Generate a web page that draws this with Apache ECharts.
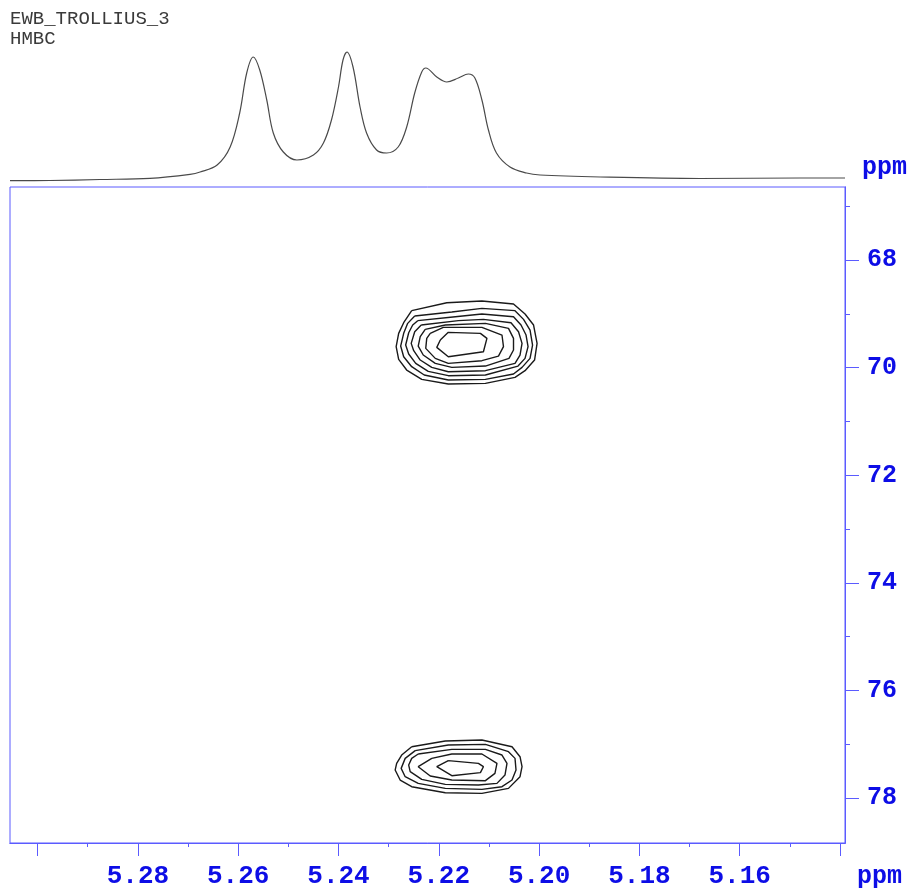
<!DOCTYPE html>
<html>
<head>
<meta charset="utf-8">
<script src="https://cdn.jsdelivr.net/npm/echarts@6/dist/echarts.min.js"></script>
<style>
  html, body { margin: 0; padding: 0; background: #fff; }
  #chart { width: 914px; height: 889px; }
</style>
</head>
<body>
<div id="chart"></div>
<script>
// 1D projection (F2, 1H): ppm and relative intensity
var projPpm = [5.3055, 5.2975, 5.2876, 5.2776, 5.2696, 5.2676, 5.2642, 5.2616, 5.2597, 5.2583,
  5.2570, 5.2557, 5.2543, 5.2530, 5.2510, 5.2483, 5.2450, 5.2430, 5.2414, 5.2400,
  5.2391, 5.2383, 5.2371, 5.2357, 5.2344, 5.2324, 5.2304, 5.2281, 5.2264, 5.2248,
  5.2234, 5.2226, 5.2204, 5.2184, 5.2161, 5.2141, 5.2128, 5.2114, 5.2101, 5.2085,
  5.2058, 5.2025, 5.1998, 5.1878, 5.1679, 5.1480, 5.1390]
var projInt = [2.3, 2.5, 3.5, 4.7, 8.7, 11, 18, 36, 70, 110,
  126, 113, 83, 50, 31, 23, 28, 40, 63, 96,
  123, 131, 116, 76, 50, 33, 30, 36, 56, 90,
  111, 115, 106, 101, 105, 109, 105, 83, 53, 30,
  16, 10, 8, 6, 4.5, 5, 5]

// HMBC cross peak at ~69.5 ppm, contour levels outer -> inner, [1H ppm, 13C ppm]
var peakA1 = [[5.2254, 68.940], [5.2184, 68.792], [5.2114, 68.761], [5.2051, 68.816], [5.2028, 69.002], [5.2011, 69.207],
  [5.2004, 69.548], [5.2009, 69.858], [5.2028, 70.056], [5.2048, 70.180], [5.2107, 70.292], [5.2181, 70.304],
  [5.2234, 70.218], [5.2264, 70.044], [5.2280, 69.846], [5.2285, 69.610], [5.2280, 69.362], [5.2270, 69.164]]
var peakA2 = [[5.2248, 69.040], [5.2174, 68.965], [5.2114, 68.897], [5.2048, 68.940], [5.2031, 69.102], [5.2018, 69.300],
  [5.2013, 69.579], [5.2018, 69.827], [5.2034, 69.994], [5.2051, 70.118], [5.2107, 70.218], [5.2181, 70.230],
  [5.2229, 70.137], [5.2254, 69.982], [5.2270, 69.796], [5.2276, 69.598], [5.2270, 69.362], [5.2262, 69.176]]
var peakA3 = [[5.2242, 69.126], [5.2167, 69.052], [5.2114, 69.002], [5.2051, 69.052], [5.2036, 69.207], [5.2026, 69.393],
  [5.2022, 69.610], [5.2028, 69.827], [5.2042, 69.970], [5.2107, 70.137], [5.2181, 70.149], [5.2221, 70.069],
  [5.2246, 69.920], [5.2260, 69.746], [5.2266, 69.579], [5.2260, 69.350], [5.2252, 69.207]]
var peakA4 = [[5.2235, 69.207], [5.2161, 69.126], [5.2111, 69.102], [5.2056, 69.164], [5.2041, 69.331], [5.2034, 69.548],
  [5.2038, 69.765], [5.2048, 69.920], [5.2107, 70.056], [5.2181, 70.075], [5.2214, 69.994], [5.2237, 69.858],
  [5.2250, 69.684], [5.2255, 69.548], [5.2248, 69.331]]
var peakA5 = [[5.2227, 69.288], [5.2187, 69.207], [5.2107, 69.176], [5.2061, 69.269], [5.2051, 69.455], [5.2051, 69.672],
  [5.2060, 69.827], [5.2107, 69.970], [5.2174, 69.994], [5.2207, 69.920], [5.2231, 69.765], [5.2241, 69.598],
  [5.2237, 69.424]]
var peakA6 = [[5.2217, 69.362], [5.2191, 69.250], [5.2114, 69.250], [5.2074, 69.393], [5.2071, 69.610], [5.2081, 69.784],
  [5.2114, 69.870], [5.2181, 69.920], [5.2207, 69.827], [5.2226, 69.641], [5.2224, 69.455]]
var peakA7 = [[5.2197, 69.486], [5.2181, 69.343], [5.2117, 69.362], [5.2104, 69.455], [5.2111, 69.703], [5.2181, 69.796],
  [5.2204, 69.622]]

// HMBC cross peak at ~77.4 ppm
var peakB1 = [[5.2254, 77.049], [5.2187, 76.943], [5.2114, 76.925], [5.2054, 77.049], [5.2038, 77.235], [5.2034, 77.421],
  [5.2038, 77.607], [5.2061, 77.824], [5.2114, 77.917], [5.2187, 77.905], [5.2254, 77.793], [5.2277, 77.669],
  [5.2287, 77.483], [5.2284, 77.359], [5.2274, 77.204]]
var peakB2 = [[5.2247, 77.123], [5.2181, 77.018], [5.2107, 77.005], [5.2061, 77.142], [5.2048, 77.266], [5.2046, 77.483],
  [5.2054, 77.669], [5.2074, 77.793], [5.2114, 77.843], [5.2187, 77.824], [5.2241, 77.731], [5.2267, 77.607],
  [5.2275, 77.452], [5.2267, 77.266]]
var peakB3 = [[5.2241, 77.185], [5.2174, 77.098], [5.2107, 77.098], [5.2074, 77.204], [5.2064, 77.359], [5.2068, 77.576],
  [5.2084, 77.731], [5.2121, 77.762], [5.2187, 77.750], [5.2234, 77.657], [5.2257, 77.514], [5.2260, 77.390],
  [5.2254, 77.266]]
var peakB4 = [[5.2214, 77.266], [5.2174, 77.185], [5.2114, 77.185], [5.2084, 77.359], [5.2088, 77.545], [5.2107, 77.681],
  [5.2174, 77.669], [5.2217, 77.594], [5.2241, 77.421]]
var peakB5 = [[5.2181, 77.309], [5.2121, 77.359], [5.2111, 77.421], [5.2117, 77.532], [5.2174, 77.588], [5.2204, 77.421]]

// axis ticks
var f2Major = [5.14, 5.16, 5.18, 5.20, 5.22, 5.24, 5.26, 5.28, 5.30]
var f2Minor = [5.15, 5.17, 5.19, 5.21, 5.23, 5.25, 5.27, 5.29]
var f2Labels = [5.16, 5.18, 5.20, 5.22, 5.24, 5.26, 5.28]
var f1Major = [68, 70, 72, 74, 76, 78]
var f1Minor = [67, 69, 71, 73, 75, 77]

var f2Min = 5.1390, f2Max = 5.3055
var f1Min = 66.64, f1Max = 78.84

var blueLine = '#5b5bff'
var blueText = '#0d0de6'
var monoFont = "'Courier New', 'Liberation Mono', monospace"

var chart = echarts.init(document.getElementById('chart'))

function closed(pts) {
  return pts.concat([pts[0]])
}

var contours = [peakA1, peakA2, peakA3, peakA4, peakA5, peakA6, peakA7,
  peakB1, peakB2, peakB3, peakB4, peakB5]

var series = [{
  type: 'line',
  xAxisIndex: 0,
  yAxisIndex: 0,
  data: projPpm.map(function (p, i) { return [p, projInt[i]] }),
  showSymbol: false,
  smooth: 0.35,
  lineStyle: { color: '#4a4a4a', width: 1.2 },
  silent: true
}]
contours.forEach(function (c) {
  series.push({
    type: 'line',
    xAxisIndex: 1,
    yAxisIndex: 1,
    data: closed(c),
    showSymbol: false,
    smooth: false,
    lineStyle: { color: '#1a1a1a', width: 1.4 },
    silent: true
  })
})

function tickAxis(opts) {
  return Object.assign({
    type: 'value',
    inverse: true,
    scale: true,
    splitLine: { show: false },
    axisLine: { show: true, lineStyle: { color: blueLine, width: 1 } }
  }, opts)
}

chart.setOption({
  animation: false,
  backgroundColor: '#fff',
  grid: [
    { left: 10, top: 40, width: 835, height: 143, show: false },
    { left: 10, top: 187, width: 835, height: 656, show: true, borderColor: blueLine, borderWidth: 1 }
  ],
  xAxis: [
    { type: 'value', gridIndex: 0, min: f2Min, max: f2Max, inverse: true, show: false },
    tickAxis({
      gridIndex: 1, min: f2Min, max: f2Max, position: 'bottom',
      axisTick: { show: true, length: 13, customValues: f2Major, lineStyle: { color: blueLine } },
      axisLabel: {
        customValues: f2Labels, margin: 20, color: blueText, fontSize: 26, fontWeight: 'bold',
        fontFamily: monoFont, formatter: function (v) { return v.toFixed(2) }
      }
    }),
    tickAxis({
      gridIndex: 1, min: f2Min, max: f2Max, position: 'bottom',
      axisTick: { show: true, length: 4, customValues: f2Minor, lineStyle: { color: blueLine } },
      axisLabel: { show: false }
    })
  ],
  yAxis: [
    { type: 'value', gridIndex: 0, min: 0, max: 143, show: false },
    tickAxis({
      gridIndex: 1, min: f1Min, max: f1Max, position: 'right',
      axisTick: { show: true, length: 14, customValues: f1Major, lineStyle: { color: blueLine } },
      axisLabel: {
        customValues: f1Major, margin: 22, color: blueText, fontSize: 25, fontWeight: 'bold',
        fontFamily: monoFont
      }
    }),
    tickAxis({
      gridIndex: 1, min: f1Min, max: f1Max, position: 'right',
      axisTick: { show: true, length: 5, customValues: f1Minor, lineStyle: { color: blueLine } },
      axisLabel: { show: false }
    })
  ],
  graphic: [
    {
      type: 'text', left: 10, top: 9,
      style: { text: 'EWB_TROLLIUS_3\nHMBC', fill: '#3a3a3a', font: "19px 'Courier New', 'Liberation Mono', monospace", lineHeight: 20 }
    },
    {
      type: 'text', left: 862, top: 155,
      style: { text: 'ppm', fill: blueText, font: "bold 25px 'Courier New', 'Liberation Mono', monospace" }
    },
    {
      type: 'text', left: 857, top: 864,
      style: { text: 'ppm', fill: blueText, font: "bold 25px 'Courier New', 'Liberation Mono', monospace" }
    }
  ],
  series: series
})
</script>
</body>
</html>
